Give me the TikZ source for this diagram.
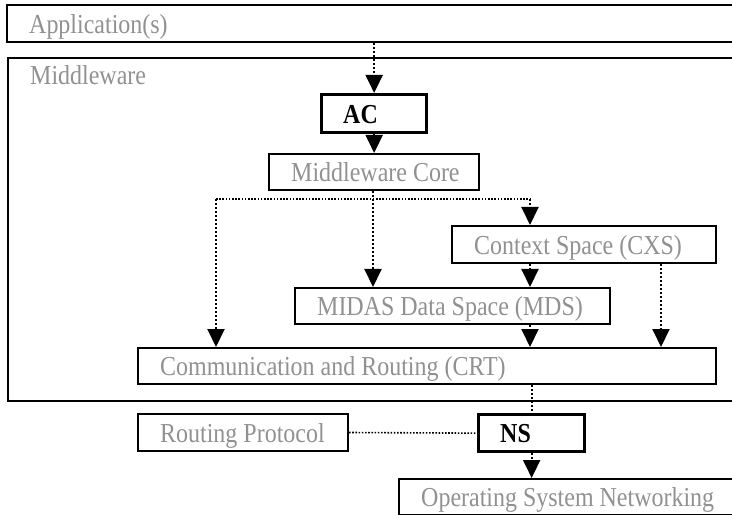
\documentclass[tikz,border=0pt]{standalone}
\usepackage{fontspec}
\setmainfont{Liberation Serif}
\usepackage{graphicx}
\usetikzlibrary{arrows.meta}
\definecolor{labelgray}{RGB}{145,145,145}
% labels are set slightly condensed
\newcommand{\narrow}[1]{\scalebox{0.875}[1]{#1}}
\tikzset{
  layerbox/.style={draw=black, line width=2bp, fill=white, inner sep=0pt, anchor=north west},
  keybox/.style={layerbox, line width=3.3bp},
  lbl/.style={anchor=base west, inner sep=0pt, text=labelgray, font=\fontsize{27.5}{30}\selectfont},
  keylbl/.style={lbl, text=black, font=\fontsize{27.5}{30}\selectfont\bfseries},
  dots/.style={line width=2bp, dash pattern=on 2bp off 2bp},
  thindots/.style={line width=1.6bp, dash pattern=on 1.6bp off 1.6bp},
  arr/.style={-{Triangle[length=18bp,width=17bp]}}
}
\begin{document}
\begin{tikzpicture}[x=1bp,y=-1bp]
\clip (0,0) rectangle (732,515);

% outer layers
\node[layerbox, minimum width=760bp, minimum height=37bp] (app) at (6,4) {};
\node[layerbox, minimum width=760bp, minimum height=343bp] (mw) at (7,57) {};

% middleware components
\node[keybox, minimum width=105bp, minimum height=38bp] (ac) at (320,93) {};
\node[layerbox, minimum width=210bp, minimum height=36bp] (mc) at (268,153) {};
\node[layerbox, minimum width=264bp, minimum height=37bp] (cxs) at (451,225) {};
\node[layerbox, minimum width=315bp, minimum height=36bp] (mds) at (294,287) {};
\node[layerbox, minimum width=578bp, minimum height=36bp] (crt) at (137,347) {};

% below the middleware
\node[layerbox, minimum width=210bp, minimum height=37bp] (rp) at (137,413) {};
\node[keybox, minimum width=106bp, minimum height=37bp] (ns) at (477,413) {};
\node[layerbox, minimum width=400bp, minimum height=36bp] (osn) at (398,478) {};

% labels
\node[lbl] (appL) at ([shift={(23,10.5)}]app.west) {\narrow{Application(s)}};
\node[lbl] (mwL) at ([shift={(23,28)}]mw.north west) {\narrow{Middleware}};
\node[keylbl] (acL) at ([shift={(23,9.5)}]ac.west) {\narrow{AC}};
\node[lbl] (mcL) at ([shift={(23,9.5)}]mc.west) {\narrow{Middleware Core}};
\node[lbl] (cxsL) at ([shift={(23,9.5)}]cxs.west) {\narrow{Context Space (CXS)}};
\node[lbl] (mdsL) at ([shift={(23,9.5)}]mds.west) {\narrow{MIDAS Data Space (MDS)}};
\node[lbl] (crtL) at ([shift={(23,9.5)}]crt.west) {\narrow{Communication and Routing (CRT)}};
\node[lbl] (rpL) at ([shift={(23,9.5)}]rp.west) {\narrow{Routing Protocol}};
\node[keylbl] (nsL) at ([shift={(23,9.5)}]ns.west) {\narrow{NS}};
\node[lbl] (osnL) at ([shift={(23,9.5)}]osn.west) {\narrow{Operating System Networking}};

% junction points of the fan-out below the core
\coordinate (split) at (373,199);
\coordinate (sL) at (216,199);
\coordinate (sR) at (530,199);
\coordinate (cr) at (661,262);

% connectors
\draw[dots, arr] (ac.north |- app.south) -- (ac.north);
\draw[dots, arr] (ac.south) -- (mc.north -| ac.south);
\draw[dots] (mc.south -| split) -- (split);
\draw[thindots] (sL) -- (sR);
\draw[dots, arr] (sL) -- (sL |- crt.north);
\draw[dots, arr] (split) -- (split |- mds.north);
\draw[dots, arr] (sR) -- (sR |- cxs.north);
\draw[dots, arr] (cxs.south -| sR) -- (mds.north -| sR);
\draw[dots, arr] (mds.south -| sR) -- (crt.north -| sR);
\draw[dots, arr] (cr |- cxs.south) -- (cr |- crt.north);
\draw[dots] (crt.south -| ns.north) -- (ns.north);
\draw[thindots] (rp.east) -- (ns.west);
\draw[dots, arr] (ns.south) -- (osn.north -| ns.south);
\end{tikzpicture}
\end{document}
